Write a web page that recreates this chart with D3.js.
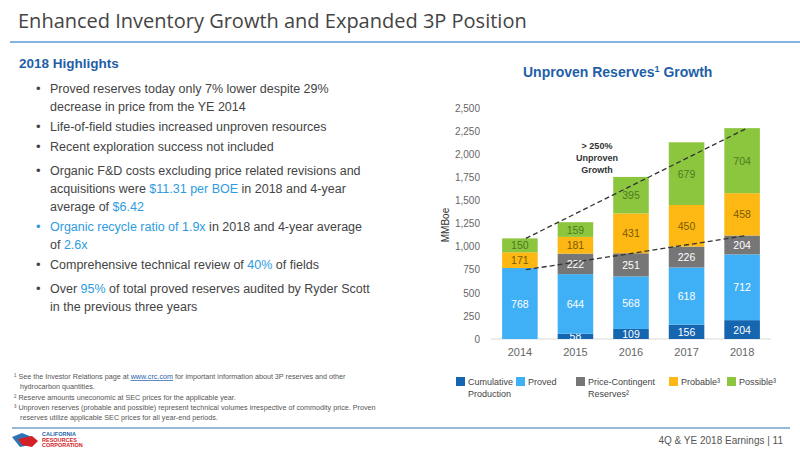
<!DOCTYPE html>
<html><head><meta charset="utf-8">
<script src="https://cdn.jsdelivr.net/npm/d3@7"></script>
<style>
body{margin:0;background:#fff;font-family:"Liberation Sans",Arial,sans-serif;}
svg text{font-family:"Liberation Sans",Arial,sans-serif;}
</style></head><body>
<svg id="c" width="800" height="450"></svg>
<script>
const years=["2014","2015","2016","2017","2018"];
const production=[0,58,109,156,204];
const proved=[768,644,568,618,712];
const priceContingent=[0,222,251,226,204];
const probable=[171,181,431,450,458];
const possible=[150,159,395,679,704];
const seriesNames=["Cumulative Production","Proved","Price-Contingent Reserves","Probable","Possible"];
const colors=["#1565b0","#3fb0f5","#767676","#fdb813","#8cc63f"];
const labelColors=["#fff","#fff","#fff","#7a5a00","#4d7a1e"];
const yTicks=[0,250,500,750,1000,1250,1500,1750,2000,2250,2500];
const upperTrend=[1089,2282];
const lowerTrend=[750,1120];

const svg=d3.select("#c");
svg.append("text").attr("x",18).attr("y",28).attr("font-size",20).attr("fill","#444").style("font-family","'Open Sans',sans-serif").text("Enhanced Inventory Growth and Expanded 3P Position");
svg.append("line").attr("x1",10).attr("x2",800).attr("y1",42).attr("y2",42).attr("stroke","#5b9bd5").attr("stroke-width",1.5);

// left text
svg.append("text").attr("x",19).attr("y",68).attr("font-size",13.5).attr("font-weight","bold").attr("fill","#1f5fa8").text("2018 Highlights");
const bl=[
 [[["Proved reserves today only 7% lower despite 29%",0]],[["decrease in price from the YE 2014",0]]],
 [[["Life-of-field studies increased unproven resources",0]]],
 [[["Recent exploration success not included",0]]],
 [[["Organic F&D costs excluding price related revisions and",0]],[["acquisitions were ",0],["$11.31 per BOE",1],[" in 2018 and 4-year",0]],[["average of ",0],["$6.42",1]]],
 [[["Organic recycle ratio of 1.9x",1],[" in 2018 and 4-year average",0]],[["of ",0],["2.6x",1]]],
 [[["Comprehensive technical review of ",0],["40%",1],[" of fields",0]]],
 [[["Over ",0],["95%",1],[" of total proved reserves audited by Ryder Scott",0]],[["in the previous three years",0]]]
];
const bulletTops=[93,131,151,175,231,269,293];
bl.forEach((b,i)=>{
  const bc=(b[0][0][1]===1)?"#2e9be0":"#444";
  svg.append("text").attr("x",36).attr("y",bulletTops[i]).attr("font-size",13).attr("fill",bc).text("•");
  b.forEach((line,j)=>{
    const t=svg.append("text").attr("x",50).attr("y",bulletTops[i]+j*18).attr("font-size",12.5).attr("fill","#444");
    line.forEach(s=>t.append("tspan").attr("fill",s[1]?"#2e9be0":"#444").text(s[0]));
  });
});

// footnotes
const fn=[["¹ See the Investor Relations page at ","www.crc.com"," for important information about 3P reserves and other"],["hydrocarbon quantities."],["² Reserve amounts uneconomic at SEC prices for the applicable year."],["³ Unproven reserves (probable and possible) represent technical volumes irrespective of commodity price. Proven"],["reserves utilize applicable SEC prices for all year-end periods."]];
fn.forEach((f,i)=>{
  const t=svg.append("text").attr("x",(i==1||i==4)?20:14).attr("y",379+i*10.3).attr("font-size",7.2).attr("fill","#555");
  t.append("tspan").text(f[0]);
  if(f[1]){t.append("tspan").attr("fill","#1f5fa8").attr("text-decoration","underline").text(f[1]);t.append("tspan").text(f[2]);}
});
svg.append("line").attr("x1",12).attr("x2",790).attr("y1",428).attr("y2",428).attr("stroke","#2e75b6").attr("stroke-width",1.2);
svg.append("text").attr("x",783).attr("y",444).attr("text-anchor","end").attr("font-size",10).attr("fill","#555").text("4Q & YE 2018 Earnings  |  11");
const lg=svg.append("g").attr("transform","translate(12,431)");
lg.append("path").attr("d","M0,6 L10,2 L20,6 L18,14 L8,16 Z").attr("fill","#2e75b6");
lg.append("path").attr("d","M6,8 L20,5 L26,10 L20,16 L10,14 Z").attr("fill","#d62027");
["CALIFORNIA","RESOURCES","CORPORATION"].forEach((s,i)=>lg.append("text").attr("x",30).attr("y",5+i*5.5).attr("font-size",5.5).attr("font-weight","bold").attr("fill",i==0?"#1f5fa8":"#d62027").text(s));

// chart
svg.append("text").attr("x",523).attr("y",77).attr("font-size",14).attr("font-weight","bold").attr("fill","#1f5fa8").attr("text-anchor","start")
 .html('Unproven Reserves<tspan font-size="9" dy="-5">1</tspan><tspan dy="5"> Growth</tspan>');
const x=d3.scaleBand().domain(years).range([491,771]).paddingInner(0.36).paddingOuter(0.2);
const y=d3.scaleLinear().domain([0,2500]).range([339,108]);
const ax=svg.append("g").attr("transform","translate(486,0)").call(d3.axisLeft(y).tickValues(yTicks).tickFormat(d3.format(",")).tickSize(0).tickPadding(6));
ax.select(".domain").remove();
ax.selectAll("text").attr("font-size",10).attr("fill","#666");
svg.append("line").attr("x1",491).attr("x2",771).attr("y1",y(0)).attr("y2",y(0)).attr("stroke","#d9d9d9");
const xa=svg.append("g").attr("transform",`translate(0,${y(0)})`).call(d3.axisBottom(x).tickSize(0).tickPadding(9));
xa.select(".domain").remove();
xa.selectAll("text").attr("font-size",11).attr("fill","#666");
svg.append("text").attr("transform","translate(449,225) rotate(-90)").attr("text-anchor","middle").attr("font-size",10).attr("fill","#333").text("MMBoe");

const data=years.map((yr,i)=>({year:yr,s0:production[i],s1:proved[i],s2:priceContingent[i],s3:probable[i],s4:possible[i]}));
const stack=d3.stack().keys(["s0","s1","s2","s3","s4"])(data);
stack.forEach((layer,k)=>{
  svg.append("g").selectAll("rect").data(layer).join("rect")
   .attr("x",d=>x(d.data.year)).attr("width",x.bandwidth())
   .attr("y",d=>y(d[1])).attr("height",d=>y(d[0])-y(d[1])).attr("fill",colors[k]);
  svg.append("g").selectAll("text").data(layer.filter(d=>d[1]-d[0]>0)).join("text")
   .attr("x",d=>x(d.data.year)+x.bandwidth()/2).attr("y",d=>(y(d[0])+y(d[1]))/2+4)
   .attr("text-anchor","middle").attr("font-size",10.5).attr("fill",labelColors[k]).text(d=>d[1]-d[0]);
});
const xs=[x("2014")+x.bandwidth()/2+6,x("2018")+x.bandwidth()/2+5];
[upperTrend,lowerTrend].forEach(t=>svg.append("line").attr("x1",xs[0]).attr("y1",y(t[0])).attr("x2",xs[1]).attr("y2",y(t[1]))
  .attr("stroke","#333").attr("stroke-width",1.3).attr("stroke-dasharray","5,3"));
["> 250%","Unproven","Growth"].forEach((s,i)=>svg.append("text").attr("x",597).attr("y",149+i*12).attr("text-anchor","middle").attr("font-size",9).attr("font-weight","bold").attr("fill","#333").text(s));

// legend
const leg=[["Cumulative","Production"],["Proved"],["Price-Contingent","Reserves²"],["Probable³"],["Possible³"]];
const lx=[456,516,576,669,727];
leg.forEach((l,i)=>{
  svg.append("rect").attr("x",lx[i]).attr("y",377).attr("width",9).attr("height",9).attr("fill",colors[i]);
  l.forEach((s,j)=>svg.append("text").attr("x",lx[i]+12).attr("y",385+j*12).attr("font-size",9).attr("fill","#444").text(s));
});
</script></body></html>
